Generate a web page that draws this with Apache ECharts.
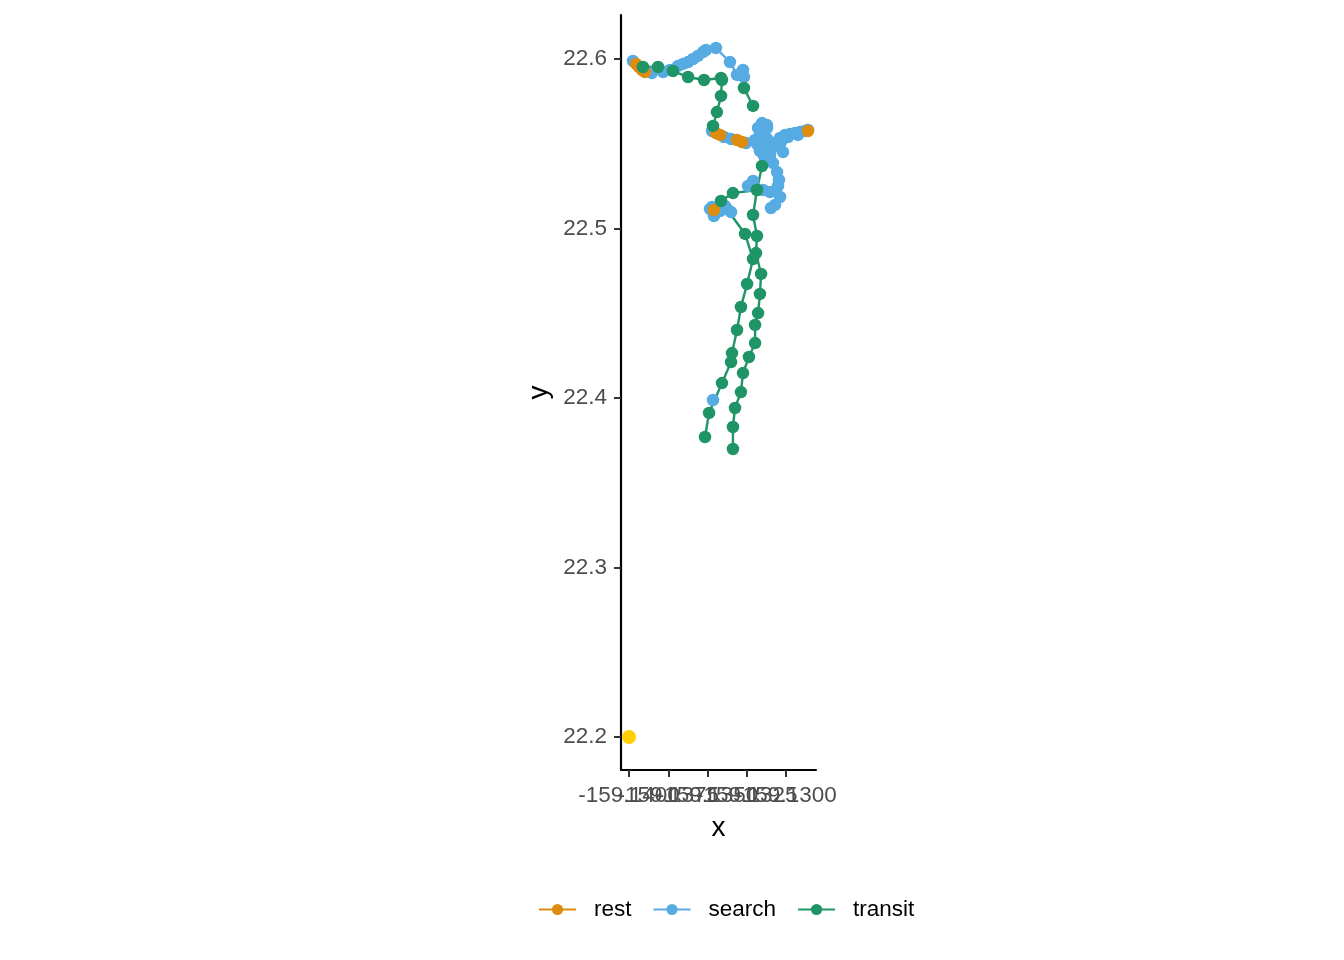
<!DOCTYPE html>
<html>
<head>
<meta charset="utf-8">
<script src="https://cdn.jsdelivr.net/npm/echarts@6/dist/echarts.min.js"></script>
<style>
  html, body { margin: 0; padding: 0; background: #ffffff; }
  #chart { width: 1344px; height: 960px; }
</style>
</head>
<body>
<div id="chart"></div>
<script>
// track points per state, null = break in the path
const restX = [-159.13955, -159.13936, -159.13917, -159.13898, null,
  -159.13446, -159.13420, null, -159.13312, -159.13280, null, -159.13459, null, -159.12860];
const restY = [22.5971, 22.5953, 22.5935, 22.5923, null,
  22.5563, 22.5552, null, 22.5522, 22.5510, null, 22.5109, null, 22.5575];

const searchX = [
  -159.13975, -159.13854, -159.13783, -159.13739, -159.13688, -159.13656, -159.13624, -159.13592,
  -159.13561, -159.13529, -159.13510, -159.13446, -159.13357, -159.13312, -159.13274, -159.13268, null,
  -159.13471, -159.13395, -159.13350, -159.13255, -159.13197, -159.13166, -159.13153, -159.13121,
  -159.13127, -159.13102, -159.13064, -159.13038, -159.13006, -159.12975, -159.12943, -159.12911,
  -159.12879, -159.12860, -159.12924, -159.12987, -159.13032, -159.13019, -159.13089, -159.13147,
  -159.13159, -159.13140, -159.13083, -159.13057, -159.13045, -159.13051, -159.13038, -159.13070,
  -159.13096, null,
  -159.13102, -159.13147, -159.13210, -159.13242, null,
  -159.13471, -159.13484, -159.13459, -159.13446, -159.13420, -159.13376, -159.13350, -159.13389, null,
  -159.13465, null,
  -159.13178, -159.13146, -159.13115, -159.13185, -159.13134, -159.13102, -159.13166, -159.13121];
const searchY = [
  22.5988, 22.5917, 22.5923, 22.5935, 22.5959, 22.5971, 22.5982, 22.6000,
  22.6018, 22.6041, 22.6053, 22.6065, 22.5982, 22.5906, 22.5935, 22.5894, null,
  22.5575, 22.5540, 22.5528, 22.5504, 22.5522, 22.5569, 22.5622, 22.5593,
  22.5534, 22.5504, 22.5504, 22.5534, 22.5552, 22.5557, 22.5563, 22.5569,
  22.5575, 22.5581, 22.5552, 22.5540, 22.5510, 22.5451, 22.5475, 22.5463,
  22.5499, 22.5428, 22.5386, 22.5333, 22.5286, 22.5251, 22.5186, 22.5139,
  22.5121, null,
  22.5215, 22.5227, 22.5280, 22.5251, null,
  22.5127, 22.5115, 22.5074, 22.5097, 22.5103, 22.5115, 22.5097, 22.5133, null,
  22.3988, null,
  22.5593, 22.5546, 22.5522, 22.5499, 22.5416, 22.5434, 22.5457, 22.5610];

const transitX = [
  -159.13911, -159.13815, -159.13720, -159.13624, -159.13522, -159.13414, null,
  -159.13408, -159.13414, -159.13440, -159.13465, null,
  -159.13268, -159.13210, null,
  -159.13153, -159.13185, -159.13210, -159.13185, -159.13191, -159.13159, -159.13166, -159.13178,
  -159.13197, -159.13197, -159.13236, -159.13274, -159.13287, -159.13325, -159.13338, -159.13338, null,
  -159.13516, -159.13490, -159.13408, -159.13350, -159.13344, -159.13312, -159.13287, -159.13248,
  -159.13210, -159.13261, -159.13414, -159.13338, -159.13185];
const transitY = [
  22.5953, 22.5953, 22.5929, 22.5894, 22.5876, 22.5888, null,
  22.5876, 22.5782, 22.5687, 22.5605, null,
  22.5829, 22.5723, null,
  22.5369, 22.5227, 22.5080, 22.4956, 22.4855, 22.4732, 22.4614, 22.4501,
  22.4431, 22.4324, 22.4242, 22.4147, 22.4035, 22.3941, 22.3829, 22.3699, null,
  22.3770, 22.3912, 22.4088, 22.4212, 22.4265, 22.4401, 22.4537, 22.4673,
  22.4820, 22.4968, 22.5162, 22.5209, 22.5227];

const markX = [-159.14];
const markY = [22.2];

const xTicks = [-159.14, -159.1375, -159.135, -159.1325, -159.13];
const yTicks = [22.2, 22.3, 22.4, 22.5, 22.6];

const states = ['rest', 'search', 'transit'];
const colors = { rest: '#DE8C0F', search: '#56ABE3', transit: '#1F9466' };
const tracks = {
  rest: [restX, restY],
  search: [searchX, searchY],
  transit: [transitX, transitY]
};

const FONT = '"Liberation Sans", Arial, sans-serif';
const X_MIN = -159.14051, X_MAX = -159.12809;

function pathData(xs, ys) {
  return xs.map((x, i) => (x === null ? ['-', '-'] : [x, ys[i]]));
}
function pointData(xs, ys) {
  return xs.map((x, i) => [x, ys[i]]).filter(p => p[0] !== null);
}

const series = [];
// paths first so every point sits on top of the lines
states.forEach(s => {
  series.push({
    name: s, type: 'line', data: pathData(...tracks[s]),
    symbol: 'circle', showSymbol: false, connectNulls: false,
    lineStyle: { color: colors[s], width: 2.4 },
    itemStyle: { color: colors[s] },
    z: 2, silent: true
  });
});
['search', 'rest', 'transit'].forEach(s => {
  series.push({
    name: s, type: 'scatter', data: pointData(...tracks[s]),
    symbol: 'circle', symbolSize: 12.5,
    itemStyle: { color: colors[s], opacity: 1 },
    z: 3, silent: true
  });
});
series.push({
  name: 'mark', type: 'scatter', data: pointData(markX, markY),
  symbol: 'circle', symbolSize: 14,
  itemStyle: { color: '#FFD000', opacity: 1 }, z: 4, silent: true
});

// one x axis per tick label so the overlapping labels all get drawn, like the original
const xAxes = xTicks.map((t, i) => ({
  type: 'value', min: X_MIN, max: X_MAX,
  position: 'bottom',
  name: i === 0 ? 'x' : '', nameLocation: 'middle', nameGap: 44,
  nameTextStyle: { color: '#000000', fontSize: 28, fontFamily: FONT },
  axisLine: { show: i === 0, onZero: false, lineStyle: { color: '#000000', width: 2.2 } },
  axisTick: { show: true, length: 7, lineStyle: { color: '#333333', width: 2 }, customValues: [t] },
  axisLabel: {
    color: '#4D4D4D', fontSize: 22.5, fontFamily: FONT, margin: 14,
    customValues: [t], hideOverlap: false, showMinLabel: true, showMaxLabel: true,
    formatter: v => v.toFixed(4)
  },
  splitLine: { show: false }
}));

const chart = echarts.init(document.getElementById('chart'), null, { renderer: 'canvas' });
chart.setOption({
  backgroundColor: '#ffffff',
  animation: false,
  grid: { left: 621, right: 528, top: 15, bottom: 190 },
  xAxis: xAxes,
  yAxis: {
    type: 'value', min: 22.18053, max: 22.62596,
    name: 'y', nameLocation: 'middle', nameGap: 68,
    nameTextStyle: { color: '#000000', fontSize: 28, fontFamily: FONT },
    axisLine: { show: true, onZero: false, lineStyle: { color: '#000000', width: 2.2 } },
    axisTick: { show: true, length: 7, lineStyle: { color: '#333333', width: 2 }, customValues: yTicks },
    axisLabel: {
      color: '#4D4D4D', fontSize: 22.5, fontFamily: FONT, margin: 14,
      customValues: yTicks, hideOverlap: false,
      formatter: v => v.toFixed(1)
    },
    splitLine: { show: false }
  },
  legend: {
    data: states, left: 538, top: 898, orient: 'horizontal',
    padding: 0, itemGap: 21, itemWidth: 37, itemHeight: 14,
    textStyle: { color: '#000000', fontSize: 22.5, fontFamily: FONT, padding: [0, 0, 0, 13] },
    selectedMode: false
  },
  series: series
});
</script>
</body>
</html>
